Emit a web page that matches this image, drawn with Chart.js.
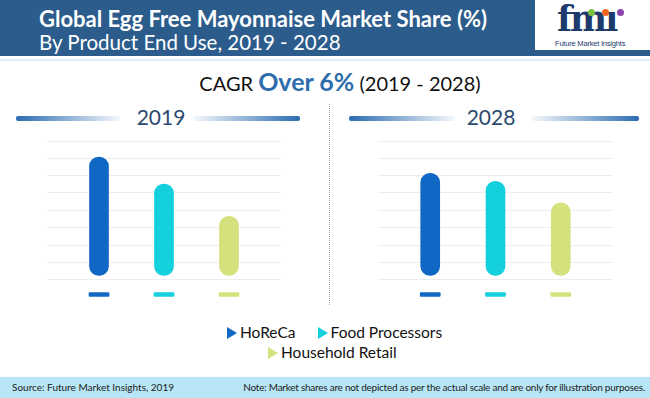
<!DOCTYPE html>
<html>
<head>
<meta charset="utf-8">
<script src="https://cdn.jsdelivr.net/npm/chart.js@4/dist/chart.umd.min.js"></script>
<style>
  body { margin: 0; width: 650px; height: 398px; overflow: hidden; background: #fff; font-family: Lato, "Open Sans", sans-serif; position: relative; }
  .abs { position: absolute; }
  #header { left: 0; top: 0; width: 650px; height: 56px; background: #2b5c8c; }
  #hline { left: 0; top: 59px; width: 650px; height: 2px; background: #e3edf5; }
  #title { left: 39px; top: 5px; color: #fff; font-weight: 700; font-size: 22px; white-space: nowrap; }
  #subtitle { left: 39px; top: 30px; color: #fff; font-size: 20.5px; white-space: nowrap; }
  #logo { left: 535px; top: 0; width: 115px; height: 50px; background: #fff; }
  #fmi { left: 22px; top: 0px; font-family: "DejaVu Serif", serif; font-weight: 700; font-size: 35px; line-height: 38px; color: #1c3a6b; letter-spacing: -2px; }
  .dot { width: 7px; height: 7px; border-radius: 50%; }
  #fmiSub { left: 20px; top: 39px; font-family: "Liberation Sans", sans-serif; font-size: 7.5px; color: #1c3a6b; white-space: nowrap; letter-spacing: -0.2px; }
  #cagr { left: 0; width: 680px; top: 66px; text-align: center; font-size: 20px; color: #111; white-space: nowrap; }
  #cagr b { color: #2e6dad; font-size: 25px; }
  .year { font-size: 21px; color: #2b4a6e; width: 80px; text-align: center; }
  .lineL { height: 5px; border-radius: 2px; background: linear-gradient(to right, #2b6cb2, rgba(43,108,178,0.05)); }
  .lineR { height: 5px; border-radius: 2px; background: linear-gradient(to right, rgba(43,108,178,0.05), #2b6cb2); }
  #sep { left: 329px; top: 104px; height: 201px; border-left: 1px dotted #a8a8a8; }
  canvas { position: absolute; }
  .leg { font-size: 15.5px; color: #111; white-space: nowrap; }
  .tri { display: inline-block; width: 0; height: 0; border-top: 6px solid transparent; border-bottom: 6px solid transparent; border-left: 10px solid; margin-right: 3px; vertical-align: -1px; }
  #footer { left: 0; top: 377px; width: 650px; height: 21px; background: #b8e6f6; }
  #src { left: 12px; top: 381px; font-size: 10px; color: #222; white-space: nowrap; }
  #note { right: 5px; top: 381px; font-size: 10px; color: #222; white-space: nowrap; letter-spacing: -0.25px; }
</style>
</head>
<body>
<div id="header" class="abs"></div>
<div id="hline" class="abs"></div>
<div id="title" class="abs">Global Egg Free Mayonnaise Market Share (%)</div>
<div id="subtitle" class="abs">By Product End Use, 2019 - 2028</div>
<div id="logo" class="abs">
  <div id="fmi" class="abs">fmı</div>
  <div class="abs dot" style="left:53px;top:9px;background:#7cc242"></div>
  <div class="abs dot" style="left:67px;top:9px;background:#f26522"></div>
  <div class="abs dot" style="left:82px;top:9px;background:#8e44ad"></div>
  <div id="fmiSub" class="abs">Future Market Insights</div>
</div>

<div id="cagr" class="abs">CAGR <b>Over 6%</b> (2019 - 2028)</div>

<div class="abs lineL" style="left:16px;top:116px;width:104px"></div>
<div class="abs year" style="left:121px;top:104px">2019</div>
<div class="abs lineR" style="left:193px;top:116px;width:107px"></div>

<div class="abs lineL" style="left:349px;top:116px;width:106px"></div>
<div class="abs year" style="left:451px;top:104px">2028</div>
<div class="abs lineR" style="left:532px;top:116px;width:107px"></div>

<div id="sep" class="abs"></div>

<canvas id="chart2019" width="234" height="156" style="left:47px;top:141px"></canvas>
<canvas id="chart2028" width="235" height="156" style="left:378px;top:141px"></canvas>

<div id="legend1" class="abs leg" style="left:227px;top:323px"></div>
<div id="legend2" class="abs leg" style="left:268px;top:343px"></div>

<div id="footer" class="abs"></div>
<div id="src" class="abs">Source: Future Market Insights, 2019</div>
<div id="note" class="abs">Note: Market shares are not depicted as per the actual scale and are only for illustration purposes.</div>

<script>
// market share (%) by product end use
const categories = ['HoReCa', 'Food Processors', 'Household Retail'];
const barColors = ['#1067c4', '#14cfdc', '#d5e17c'];
const share2019 = [44, 34, 22];
const share2028 = [38, 35, 27];
// small dash under each bar
const markerRange = [-7.8, -6.4];
const xPos = [1, 2, 3];

// legend (html, two rows like the original)
const legendRows = [[0, 1], [2]];
['legend1', 'legend2'].forEach((id, r) => {
    document.getElementById(id).innerHTML = legendRows[r].map(i =>
        '<span class="tri" style="border-left-color:' + barColors[i] + '"></span>' + categories[i]
    ).join('<span style="display:inline-block;width:22px"></span>');
});

function makeChart(canvasId, values) {
    const ctx = document.getElementById(canvasId).getContext('2d');
    new Chart(ctx, {
        type: 'bar',
        data: {
            datasets: [
                {
                    data: xPos.map((x, i) => ({ x: x, y: values[i] })),
                    backgroundColor: barColors,
                    borderRadius: 10,
                    borderSkipped: false,
                    barThickness: 19,
                    grouped: false
                },
                {
                    data: xPos.map(x => ({ x: x, y: markerRange })),
                    backgroundColor: barColors,
                    borderRadius: 1,
                    borderSkipped: false,
                    barThickness: 20,
                    grouped: false
                }
            ]
        },
        options: {
            responsive: false,
            animation: false,
            layout: { padding: 0 },
            plugins: { legend: { display: false }, tooltip: { enabled: false } },
            scales: {
                x: { type: 'linear', min: 0.2, max: 3.8, offset: false, display: false },
                y: {
                    min: -8,
                    max: 50,
                    afterBuildTicks: function (scale) {
                        const divisions = 9;
                        const step = (scale.max - scale.min) / divisions;
                        scale.ticks = [];
                        for (let i = 0; i <= divisions; i++) {
                            scale.ticks.push({ value: scale.min + i * step });
                        }
                    },
                    ticks: { display: false },
                    grid: { color: '#ededed', drawTicks: false },
                    border: { display: false }
                }
            }
        }
    });
}

makeChart('chart2019', share2019);
makeChart('chart2028', share2028);
</script>
</body>
</html>
